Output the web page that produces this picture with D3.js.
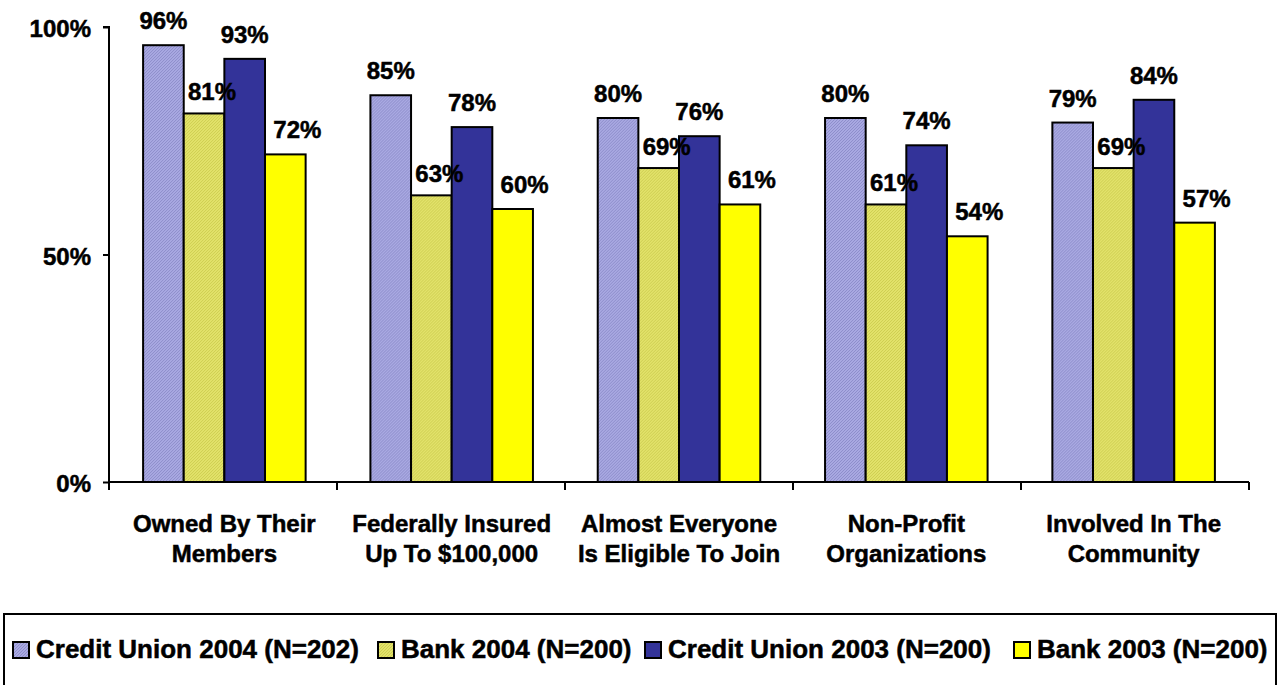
<!DOCTYPE html>
<html>
<head>
<meta charset="utf-8">
<script src="https://cdn.jsdelivr.net/npm/d3@7/dist/d3.min.js"></script>
<style>
  html, body { margin: 0; padding: 0; background: #fff; }
  svg { display: block; font-family: "Liberation Sans", Arial, sans-serif; font-weight: bold; }
  svg text { stroke: #000; stroke-width: 0.5px; }
</style>
</head>
<body>
<svg id="chart" width="1280" height="685"></svg>
<script>
const categories = [
  ["Owned By Their", "Members"],
  ["Federally Insured", "Up To $100,000"],
  ["Almost Everyone", "Is Eligible To Join"],
  ["Non-Profit", "Organizations"],
  ["Involved In The", "Community"]
];
const seriesNames = ["Credit Union 2004 (N=202)", "Bank 2004 (N=200)", "Credit Union 2003 (N=200)", "Bank 2003 (N=200)"];
const cu2004 = [96, 85, 80, 80, 79];
const bank2004 = [81, 63, 69, 61, 69];
const cu2003 = [93, 78, 76, 74, 84];
const bank2003 = [72, 60, 61, 54, 57];
const yTicks = [0, 50, 100];

(function () {
const seriesValues = [cu2004, bank2004, cu2003, bank2003];
const fills = ["url(#patBlue)", "url(#patOlive)", "#333399", "#FFFF00"];
const labelDx = [0, 8, 0, 12];
const labelGap = [16, 13, 16, 16];

const svg = d3.select("#chart");
const defs = svg.append("defs");
function pattern(id, bg, fg) {
  const p = defs.append("pattern").attr("id", id).attr("patternUnits", "userSpaceOnUse")
    .attr("width", 3).attr("height", 3);
  p.append("rect").attr("width", 3).attr("height", 3).attr("fill", bg);
  p.append("path").attr("d", "M0,3 L3,0 M-1,1 L1,-1 M2,4 L4,2").attr("stroke", fg).attr("stroke-width", 0.8);
}
pattern("patBlue", "#a9a9e2", "#8686c4");
pattern("patOlive", "#e2e26a", "#c9c94a");

const mLeft = 109, mRight = 1249, mTop = 27, mBottom = 482;
const catKeys = categories.map(c => c.join(" "));
const x0 = d3.scaleBand().domain(catKeys).range([mLeft, mRight]).paddingInner(0.285).paddingOuter(0.15);
const x1 = d3.scaleBand().domain(d3.range(seriesNames.length)).range([0, x0.bandwidth()]);
const y = d3.scaleLinear().domain([0, 100]).range([mBottom, mTop]);

// bars
catKeys.forEach((k, ci) => {
  const g = svg.append("g").attr("transform", `translate(${x0(k)},0)`);
  seriesValues.forEach((vals, si) => {
    g.append("rect")
      .attr("x", x1(si)).attr("y", y(vals[ci]))
      .attr("width", x1.bandwidth()).attr("height", y(0) - y(vals[ci]))
      .attr("fill", fills[si]).attr("stroke", "#000").attr("stroke-width", 2);
  });
  seriesValues.forEach((vals, si) => {
    g.append("text")
      .attr("x", x1(si) + x1.bandwidth() / 2 + labelDx[si])
      .attr("y", y(vals[ci]) - labelGap[si])
      .attr("text-anchor", "middle").attr("font-size", 24).attr("fill", "#000")
      .text(vals[ci] + "%");
  });
});

// y axis
const yAxis = d3.axisLeft(y).tickValues(yTicks).tickSize(6).tickPadding(12).tickFormat(d => d + "%");
const ya = svg.append("g").attr("transform", `translate(${mLeft},0)`).call(yAxis);
ya.select(".domain").attr("stroke", "#000").attr("stroke-width", 2).attr("d", `M-6,${mTop}H0V${mBottom}`);
ya.selectAll(".tick line").attr("stroke", "#000").attr("stroke-width", 2);
ya.selectAll(".tick text").attr("font-size", 24).attr("font-family", "Liberation Sans, Arial, sans-serif")
  .attr("font-weight", "bold").attr("fill", "#000").attr("dy", "0.4em");

// x axis
const step = (mRight - mLeft) / catKeys.length;
const boundaries = d3.range(catKeys.length + 1).map(i => mLeft + i * step);
svg.append("line").attr("x1", mLeft).attr("x2", mRight).attr("y1", mBottom).attr("y2", mBottom)
  .attr("stroke", "#000").attr("stroke-width", 2);
svg.selectAll(".xtick").data(boundaries).enter().append("line")
  .attr("x1", d => d).attr("x2", d => d).attr("y1", mBottom).attr("y2", mBottom + 8)
  .attr("stroke", "#000").attr("stroke-width", 2);
categories.forEach((c, ci) => {
  const cx = x0(catKeys[ci]) + x0.bandwidth() / 2;
  const t = svg.append("text").attr("text-anchor", "middle").attr("font-size", 24).attr("fill", "#000");
  c.forEach((line, li) => {
    t.append("tspan").attr("x", cx).attr("y", 532 + li * 30).text(line);
  });
});

// legend
svg.append("rect").attr("x", 4).attr("y", 614).attr("width", 1272).attr("height", 100)
  .attr("fill", "none").attr("stroke", "#000").attr("stroke-width", 2);
const legendX = [13, 378, 645, 1014];
seriesNames.forEach((n, si) => {
  const g = svg.append("g").attr("transform", `translate(${legendX[si]},0)`);
  g.append("rect").attr("x", 0).attr("y", 642).attr("width", 16).attr("height", 16)
    .attr("fill", fills[si]).attr("stroke", "#000").attr("stroke-width", 2);
  g.append("text").attr("x", 23).attr("y", 658).attr("font-size", 26).attr("fill", "#000").text(n);
});
})();
</script>
</body>
</html>
